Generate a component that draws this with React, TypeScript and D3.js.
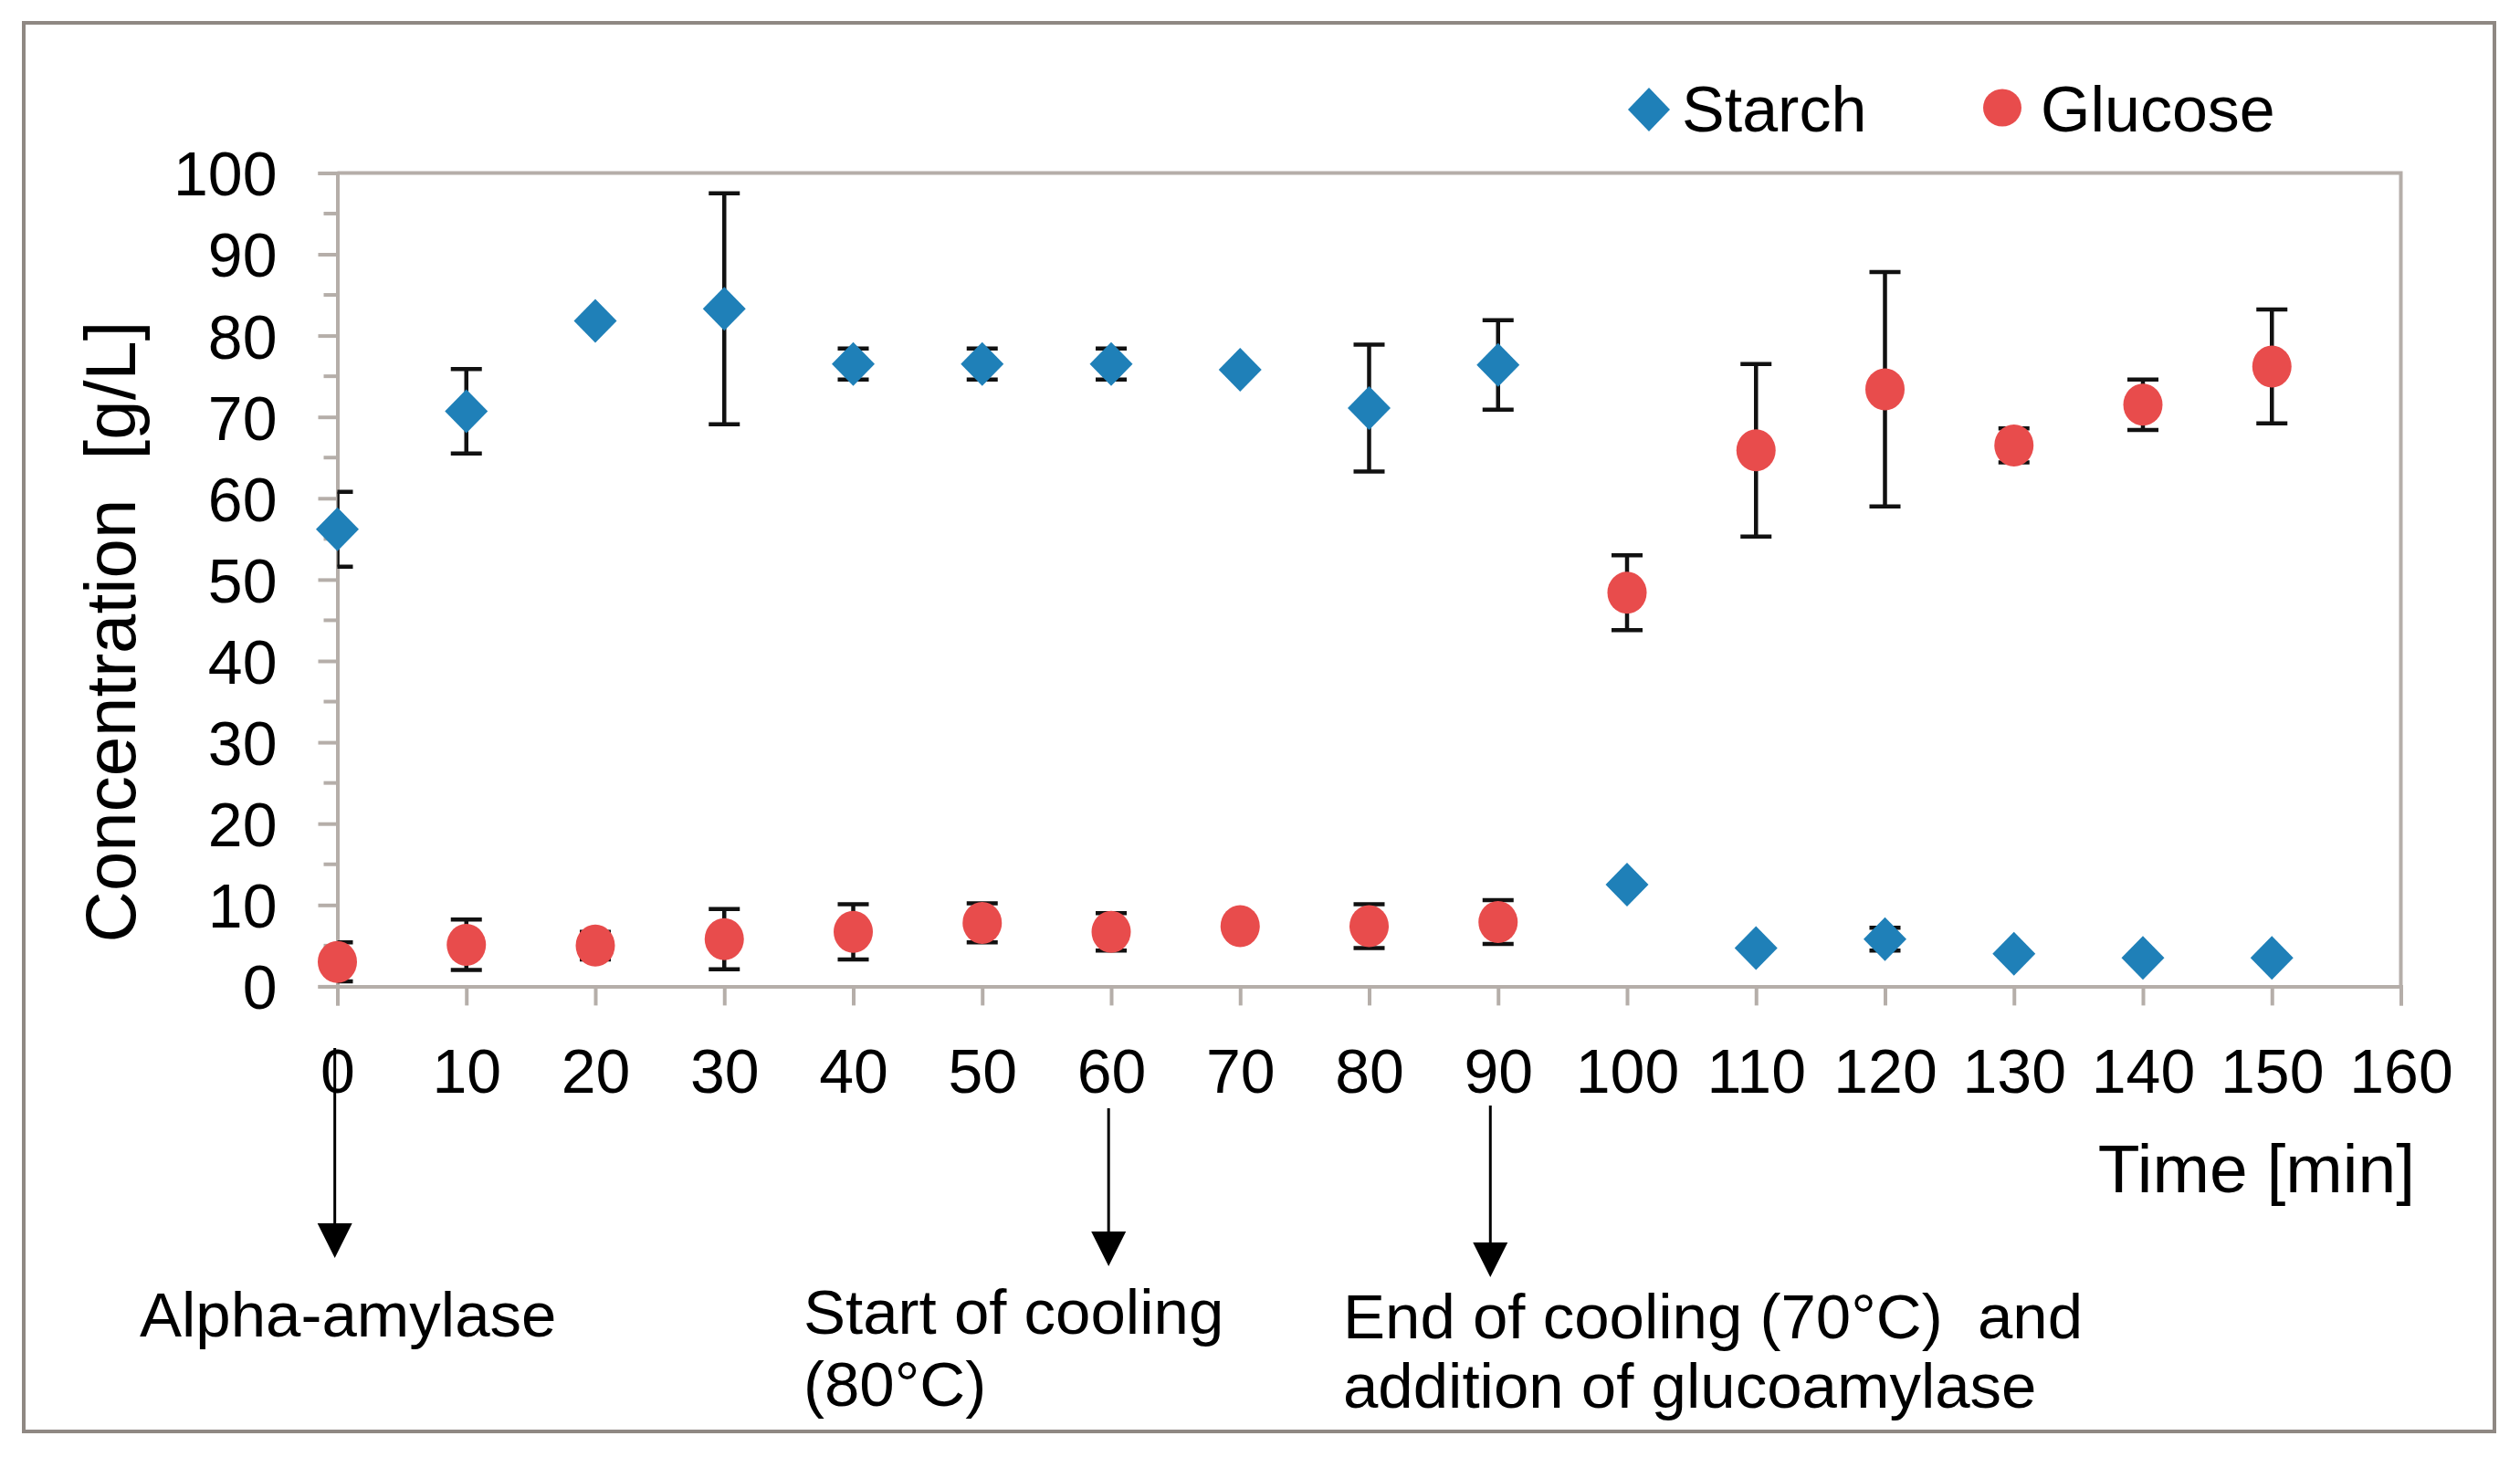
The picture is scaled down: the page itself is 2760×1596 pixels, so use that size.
import { useEffect, useRef } from 'react';
import * as d3 from 'd3';

// sampling times [min]
const times = [0, 10, 20, 30, 40, 50, 60, 70, 80, 90, 100, 110, 120, 130, 140, 150];
// starch concentration [g/L] and standard deviation
const starch = [56.2, 70.7, 81.8, 83.3, 76.5, 76.5, 76.5, 75.8, 71.1, 76.4, 12.5, 4.7, 5.8, 4.0, 3.5, 3.5];
const starchErr = [4.6, 5.2, 0, 14.2, 1.9, 1.9, 1.9, 0, 7.8, 5.5, 0, 0, 1.4, 0, 0, 0];
// glucose concentration [g/L] and standard deviation
const glucose = [3.0, 5.1, 5.0, 5.8, 6.7, 7.8, 6.7, 7.4, 7.4, 7.9, 48.4, 65.9, 73.4, 66.5, 71.5, 76.2];
const glucoseErr = [2.4, 3.1, 1.7, 3.7, 3.4, 2.4, 2.3, 0, 2.7, 2.7, 4.6, 10.6, 14.4, 2.1, 3.1, 7.0];

const yTicks = [0, 10, 20, 30, 40, 50, 60, 70, 80, 90, 100];
const yMinor = [5, 15, 25, 35, 45, 55, 65, 75, 85, 95];
const xTicks = [0, 10, 20, 30, 40, 50, 60, 70, 80, 90, 100, 110, 120, 130, 140, 150, 160];

// process steps marked under the time axis
const steps = [
    { t: -0.2, lines: ['Alpha-amylase'], textX: 153, top: 1148, tip: 1378, base: [1464] },
    { t: 59.8, lines: ['Start of cooling', '(80°C)'], textX: 880, top: 1214, tip: 1387, base: [1461, 1540] },
    { t: 89.4, lines: ['End of cooling (70°C)  and', 'addition of glucoamylase'], textX: 1471, top: 1211, tip: 1399, base: [1466, 1542] },
];

const BLUE = '#1f80b8';
const RED = '#e84c4c';
const AXIS = '#b5aea9';
const FONT = '"Liberation Sans", Arial, sans-serif';

const W = 2760;
const H = 1596;
const left = 369.5, right = 2629.5, top = 189.4, bottom = 1080.4;

const App = () => {
    const ref = useRef<SVGSVGElement>(null);

    useEffect(() => {
        const svg = d3.select(ref.current);
        svg.selectAll('*').remove();

        const x = d3.scaleLinear().domain([0, 160]).range([left, right]);
        const y = d3.scaleLinear().domain([0, 100]).range([bottom, top]);

        svg.append('rect').attr('width', W).attr('height', H).attr('fill', '#fff');

        // outer frame
        svg.append('rect')
            .attr('x', 26).attr('y', 25).attr('width', 2706).attr('height', 1543)
            .attr('fill', 'none').attr('stroke', '#8f8883').attr('stroke-width', 4);

        // plot area border (top and right)
        svg.append('path')
            .attr('d', `M${left},${top}H${right}V${bottom}`)
            .attr('fill', 'none').attr('stroke', AXIS).attr('stroke-width', 4);

        // y axis
        const yAxis = svg.append('g')
            .attr('transform', `translate(${left},0)`)
            .call(d3.axisLeft(y).tickValues(yTicks).tickSize(21).tickPadding(45).tickFormat(d3.format('d')) as any);
        yAxis.selectAll('line, path').attr('stroke', AXIS).attr('stroke-width', 4);
        yAxis.selectAll('text').attr('font-size', 68).attr('font-family', FONT).attr('fill', '#000').attr('dy', '0.36em');
        yAxis.selectAll('.minor')
            .data(yMinor).enter().append('line')
            .attr('x1', -15).attr('x2', 0)
            .attr('y1', (d: number) => y(d)).attr('y2', (d: number) => y(d))
            .attr('stroke', AXIS).attr('stroke-width', 4);

        // x axis
        const xAxis = svg.append('g')
            .attr('transform', `translate(0,${bottom})`)
            .call(d3.axisBottom(x).tickValues(xTicks).tickSize(21).tickPadding(47).tickFormat(d3.format('d')) as any);
        xAxis.selectAll('line, path').attr('stroke', AXIS).attr('stroke-width', 4);
        xAxis.selectAll('text').attr('font-size', 68).attr('font-family', FONT).attr('fill', '#000');

        // axis titles
        svg.append('text')
            .attr('transform', 'translate(148,692) rotate(-90)')
            .attr('text-anchor', 'middle')
            .attr('font-size', 78).attr('font-family', FONT)
            .style('white-space', 'pre')
            .text('Concentration  [g/L]');
        svg.append('text')
            .attr('x', 2645).attr('y', 1306)
            .attr('text-anchor', 'end')
            .attr('font-size', 75).attr('font-family', FONT)
            .text('Time [min]');

        // error bars, clipped to the plot area
        svg.append('clipPath').attr('id', 'plot-clip')
            .append('rect')
            .attr('x', left).attr('y', top - 60).attr('width', right - left).attr('height', bottom - top + 60);

        const bars = svg.append('g').attr('clip-path', 'url(#plot-clip)');
        const drawErr = (vals: number[], errs: number[]) => {
            const g = bars.selectAll(null)
                .data(times.map((t, i) => ({ t, v: vals[i], e: errs[i] })).filter(d => d.e > 0))
                .enter().append('g');
            g.append('line')
                .attr('x1', (d: any) => x(d.t)).attr('x2', (d: any) => x(d.t))
                .attr('y1', (d: any) => y(d.v + d.e)).attr('y2', (d: any) => y(d.v - d.e))
                .attr('stroke', '#111').attr('stroke-width', 4.5);
            [1, -1].forEach(s => {
                g.append('line')
                    .attr('x1', (d: any) => x(d.t) - 17).attr('x2', (d: any) => x(d.t) + 17)
                    .attr('y1', (d: any) => y(d.v + s * d.e)).attr('y2', (d: any) => y(d.v + s * d.e))
                    .attr('stroke', '#111').attr('stroke-width', 4.5);
            });
        };
        drawErr(starch, starchErr);
        drawErr(glucose, glucoseErr);

        // markers
        const diamond = 'M0,-24L23.5,0L0,24L-23.5,0Z';
        svg.append('g').selectAll('path')
            .data(times.map((t, i) => ({ t, v: starch[i] })))
            .enter().append('path')
            .attr('d', diamond)
            .attr('transform', (d: any) => `translate(${x(d.t)},${y(d.v)})`)
            .attr('fill', BLUE);
        svg.append('g').selectAll('ellipse')
            .data(times.map((t, i) => ({ t, v: glucose[i] })))
            .enter().append('ellipse')
            .attr('cx', (d: any) => x(d.t)).attr('cy', (d: any) => y(d.v))
            .attr('rx', 21.5).attr('ry', 23)
            .attr('fill', RED);

        // legend
        svg.append('path').attr('d', 'M0,-24L23,0L0,24L-23,0Z').attr('transform', 'translate(1806,120)').attr('fill', BLUE);
        svg.append('text').attr('x', 1842).attr('y', 143.5).attr('font-size', 70).attr('font-family', FONT).text('Starch');
        svg.append('ellipse').attr('cx', 2193).attr('cy', 118).attr('rx', 21).attr('ry', 20.5).attr('fill', RED);
        svg.append('text').attr('x', 2235).attr('y', 143.5).attr('font-size', 70).attr('font-family', FONT).text('Glucose');

        // process step arrows and notes
        steps.forEach(s => {
            const ax = x(s.t);
            svg.append('line')
                .attr('x1', ax).attr('x2', ax).attr('y1', s.top).attr('y2', s.tip - 30)
                .attr('stroke', '#000').attr('stroke-width', 3);
            svg.append('path')
                .attr('d', `M${ax - 19},${s.tip - 38}L${ax + 19},${s.tip - 38}L${ax},${s.tip}Z`)
                .attr('fill', '#000');
            s.lines.forEach((line, i) => {
                svg.append('text')
                    .attr('x', s.textX).attr('y', s.base[i])
                    .attr('font-size', 69).attr('font-family', FONT)
                    .style('white-space', 'pre')
                    .text(line);
            });
        });
    }, []);

    return (
        <div style={{ position: 'absolute', left: 0, top: 0 }}>
            <svg ref={ref} width={W} height={H} style={{ display: 'block' }} />
        </div>
    );
};

export default App;
